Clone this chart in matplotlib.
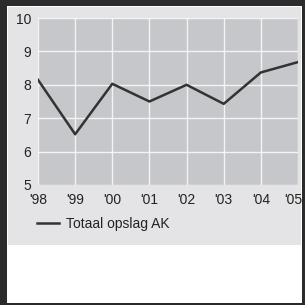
import matplotlib.pyplot as plt
import matplotlib.transforms as mtransforms
from matplotlib.patches import Rectangle

plt.rcParams['font.family'] = ['Liberation Sans Narrow', 'Liberation Sans', 'DejaVu Sans']

# Data
years = ["'98", "'99", "'00", "'01", "'02", "'03", "'04", "'05"]
values = [8.15, 6.52, 8.03, 7.5, 8.0, 7.43, 8.37, 8.68]
yticks = [5, 6, 7, 8, 9, 10]
label = 'Totaal opslag AK'

W = H = 305.0
fig = plt.figure(figsize=(3.05, 3.05), dpi=100, facecolor='white')

def box(x0, y0, x1, y1, **kw):
    # rectangle in pixel coords (top-left origin)
    fig.patches.append(Rectangle((x0 / W, 1 - y1 / H), (x1 - x0) / W, (y1 - y0) / H,
                                 transform=fig.transFigure, figure=fig, zorder=-5, **kw))

# dark outer frame, light panel
box(0, 0, 305, 305, facecolor='#2b2b2b', edgecolor='none')
box(7, 6, 302, 303, facecolor='white', edgecolor='none')
box(8, 7, 301, 245, facecolor='#e4e4e6', edgecolor='none')

ax = fig.add_axes([38 / W, 1 - 185 / H, 260 / W, 167 / H])
ax.set_facecolor('#c6c7cb')
x = range(len(years))
ax.plot(x, values, color='#333333', lw=1.8, label=label, zorder=3)
ax.set_xlim(0, len(years) - 1)
ax.set_ylim(5, 10)
ax.set_yticks(yticks)
ax.set_xticks(list(x))
ax.set_xticklabels(years)
ax.grid(color='white', lw=1.0, alpha=0.8)
ax.set_axisbelow(True)
for s in ax.spines.values():
    s.set_visible(False)
ax.tick_params(length=0, labelsize=10, colors='#222222', pad=5)
ax.tick_params(axis='x', pad=6)

# last year label sits just inside the panel
last = ax.get_xticklabels()[-1]
last.set_horizontalalignment('right')
last.set_transform(last.get_transform() +
                   mtransforms.ScaledTranslation(4 / 100, 0, fig.dpi_scale_trans))

fig.legend(loc='upper left', bbox_to_anchor=(31 / W, 1 - 211 / H), frameon=False,
           fontsize=10, handlelength=1.6, handletextpad=0.5, borderaxespad=0,
           labelcolor='#222222')
fig.savefig('out.png', dpi=100)
